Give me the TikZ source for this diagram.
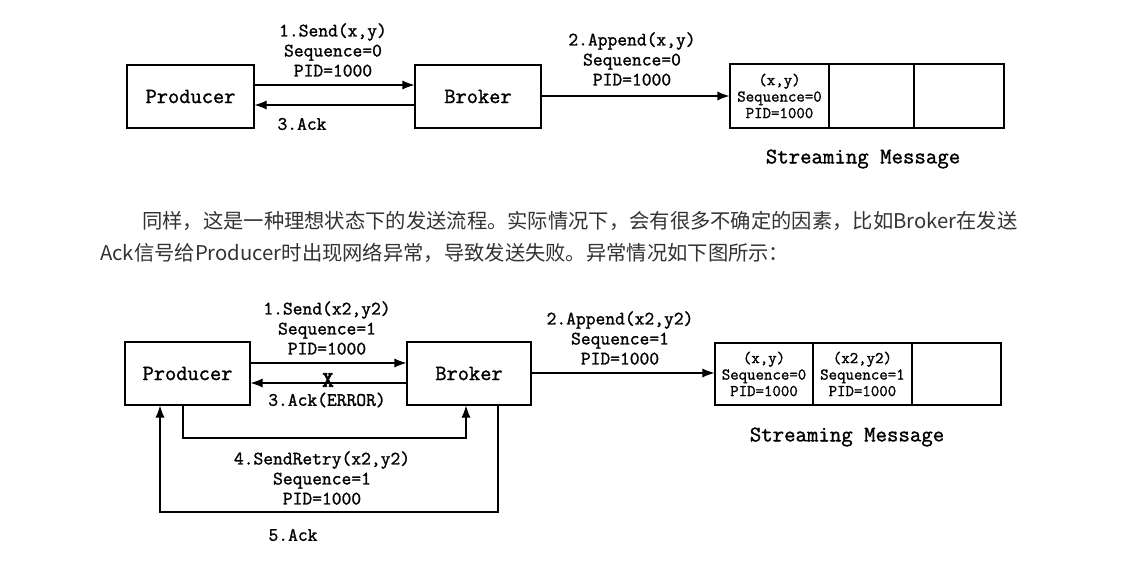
\documentclass[tikz,border=0pt]{standalone}
\usepackage{fontspec}
\newfontfamily\cjk{Noto Sans CJK SC}
\newfontfamily\cour{Latin Modern Mono}[FakeBold=1.3]
\newfontfamily\courx{Latin Modern Mono}[FakeBold=4]
\usetikzlibrary{arrows.meta}
\definecolor{para}{HTML}{333333}
\tikzset{
  box/.style={draw, line width=1.1pt, inner sep=0pt, minimum height=63pt, font=\cour\fontsize{21.8}{24}\selectfont},
  cell/.style={draw, line width=1.1pt, inner sep=0pt, align=center, font=\cour\fontsize{16.4}{16.5}\selectfont},
  lbl/.style={inner sep=0pt, align=center, font=\cour\fontsize{19}{20}\selectfont},
  captext/.style={inner sep=0pt, font=\cour\fontsize{22.2}{24}\selectfont},
  arr/.style={line width=1.1pt, -{Latex[length=12pt,width=9pt]}},
  ln/.style={line width=1.1pt}
}
\begin{document}
\begin{tikzpicture}[x=1pt,y=-1pt]
\useasboundingbox[fill=white] (0,0) rectangle (1148,585);
% ---------- top diagram ----------
\node[box, minimum width=127pt] (p1) at (190.5,96.5) {Producer};
\node[box, minimum width=126pt] (b1) at (478,96.5) {Broker};
\node[cell, minimum width=99pt, minimum height=64pt] (c11) at (779.5,96) {(x,y)\\Sequence=0\\PID=1000};
\node[cell, minimum width=85pt, minimum height=64pt] (c12) at (871.5,96) {};
\node[cell, minimum width=90pt, minimum height=64pt] (c13) at (959,96) {};
\draw[arr] (p1.east |- 0,85) -- (b1.west |- 0,85);
\draw[arr] (b1.west |- 0,105) -- (p1.east |- 0,105);
\draw[arr] (b1.east |- 0,96) -- (c11.west |- 0,96);
\node[lbl] (l1) at (333,50) {1.Send(x,y)\\Sequence=0\\PID=1000};
\node[lbl] (l3) at (302,124) {3.Ack};
\node[lbl] (l2) at (632,59) {2.Append(x,y)\\Sequence=0\\PID=1000};
\node[captext] (s1) at (863,159) {Streaming Message};
% ---------- paragraph ----------
\node[anchor=base west, inner sep=0pt, text=para, font=\cjk\fontsize{20.3}{24}\selectfont] (t1) at (142,229) {同样，这是一种理想状态下的发送流程。实际情况下，会有很多不确定的因素，比如Broker在发送};
\node[anchor=base west, inner sep=0pt, text=para, font=\cjk\fontsize{20.3}{24}\selectfont] (t2) at (100,261) {Ack信号给Producer时出现网络异常，导致发送失败。异常情况如下图所示：};
% ---------- bottom diagram ----------
\node[box, minimum width=125pt] (p2) at (187.5,373.5) {Producer};
\node[box, minimum width=124pt] (b2) at (469,373.5) {Broker};
\node[cell, minimum width=98pt, minimum height=62pt] (c21) at (764,374) {(x,y)\\Sequence=0\\PID=1000};
\node[cell, minimum width=99.3pt, minimum height=62pt] (c22) at (862.4,374) {(x2,y2)\\Sequence=1\\PID=1000};
\node[cell, minimum width=89pt, minimum height=62pt] (c23) at (956.5,374) {};
\draw[arr] (p2.east |- 0,363) -- (b2.west |- 0,363);
\draw[arr] (b2.west |- 0,383) -- (p2.east |- 0,383);
\node[inner sep=0pt, font=\courx\fontsize{22}{22}\selectfont] (x) at (328,380) {X};
\draw[arr] (b2.east |- 0,373) -- (c21.west |- 0,373);
\coordinate (r1) at (183,438);
\coordinate (r2) at (466,438);
\draw[arr] (p2.south -| r1) -- (r1) -- (r2) -- (b2.south -| r2);
\coordinate (a1) at (498,512);
\coordinate (a2) at (160,512);
\draw[arr] (b2.south -| a1) -- (a1) -- (a2) -- (p2.south -| a2);
\node[lbl] (m1) at (327,328) {1.Send(x2,y2)\\Sequence=1\\PID=1000};
\node[lbl] (m3) at (327,400) {3.Ack(ERROR)};
\node[lbl] (m2) at (620,338) {2.Append(x2,y2)\\Sequence=1\\PID=1000};
\node[lbl] (m4) at (322,478) {4.SendRetry(x2,y2)\\Sequence=1\\PID=1000};
\node[lbl] (m5) at (293,535) {5.Ack};
\node[captext] (s2) at (847,437) {Streaming Message};
\end{tikzpicture}
\end{document}
